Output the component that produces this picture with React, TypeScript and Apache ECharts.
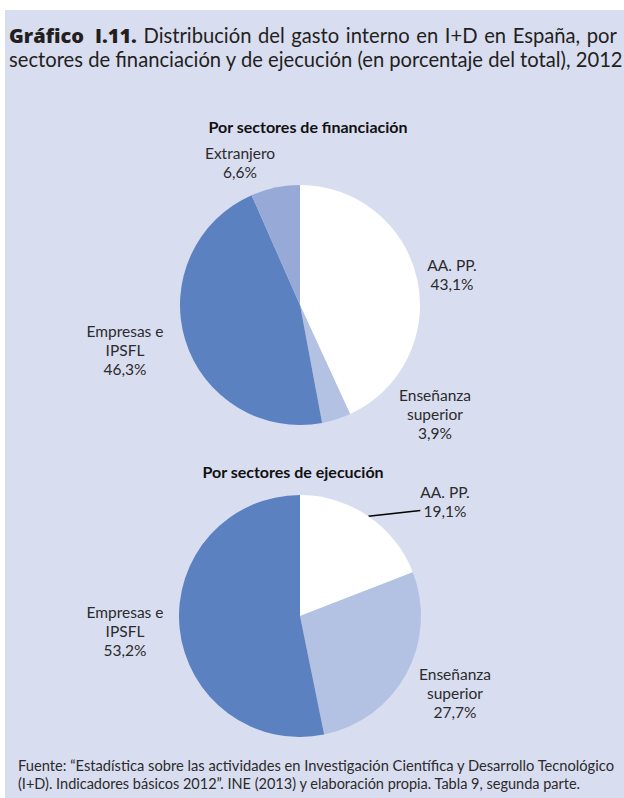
import React, { useEffect, useRef } from "react";
import * as echarts from "echarts";

const pie1Names = ["AA. PP.", "Enseñanza superior", "Empresas e IPSFL", "Extranjero"];
const pie1Labels = ["AA. PP.", "Enseñanza\nsuperior", "Empresas e\nIPSFL", "Extranjero"];
const pie1Values = [43.1, 3.9, 46.3, 6.6];

const pie2Names = ["AA. PP.", "Enseñanza superior", "Empresas e IPSFL"];
const pie2Labels = ["AA. PP.", "Enseñanza\nsuperior", "Empresas e\nIPSFL"];
const pie2Values = [19.1, 27.7, 53.2];

const titleBold = "Gráfico I.11.";
const titleLine1 = "Distribución del gasto interno en I+D en España, por";
const titleLine2 = "sectores de financiación y de ejecución (en porcentaje del total), 2012";

const sectorColors: Record<string, string> = {
  "AA. PP.": "#ffffff",
  "Enseñanza superior": "#b3c1e2",
  "Empresas e IPSFL": "#5c81c1",
  "Extranjero": "#97a9d7",
};

const FONT = "Lato";
const TEXT = "#2b2b2b";

// label anchor positions (layout, not data)
const pie1LabelPos = [[452, 274], [435, 414], [125, 350], [240, 162]];
const pie2LabelPos = [[445, 510.5], [455, 693], [125, 631]];

const fmt = (v: number) => v.toFixed(1).replace(".", ",") + "%";

export default function App() {
  const ref = useRef<HTMLDivElement>(null);
  useEffect(() => {
    if (!ref.current) return;
    const chart = echarts.init(ref.current, null, { renderer: "svg" });
    const mkData = (names: string[], labels: string[], values: number[], lineIdx: number) =>
      names.map((n, i) => ({
        name: n,
        value: values[i],
        itemStyle: { color: sectorColors[n] },
        // the labelled slice gets an empty third line so its guide line meets the label lower down
        label: { formatter: `${labels[i]}\n${fmt(values[i])}` + (i === lineIdx ? "\n " : "") },
        labelLine: { show: i === lineIdx },
      }));
    const labelCommon = {
      show: true,
      position: "outside" as const,
      color: TEXT,
      fontFamily: FONT,
      fontSize: 15.5,
      lineHeight: 19,
      align: "center" as const,
    };
    // justified first line of the title via fixed-width space segments
    const boldPart = titleBold.split(" ").map((w) => `{b|${w}}`).join("{bs| }");
    const line1 = boldPart + "{s| }" + titleLine1.split(" ").join("{s| }");
    chart.setOption({
      animation: false,
      graphic: [
        {
          type: "rect",
          z: -100,
          shape: { x: 5, y: 10, width: 619, height: 788 },
          style: { fill: "#d9ddf0" },
          silent: true,
        },
        {
          type: "text",
          x: 308,
          y: 126,
          style: {
            text: "Por sectores de financiación",
            fill: "#111",
            fontFamily: FONT,
            fontWeight: "bold",
            fontSize: 16,
            align: "center",
            verticalAlign: "middle",
          },
        },
        {
          type: "text",
          x: 293,
          y: 471,
          style: {
            text: "Por sectores de ejecución",
            fill: "#111",
            fontFamily: FONT,
            fontWeight: "bold",
            fontSize: 16,
            align: "center",
            verticalAlign: "middle",
          },
        },
        {
          type: "text",
          x: 18,
          y: 765,
          style: {
            text:
              "Fuente: “Estadística sobre las actividades en Investigación Científica y Desarrollo Tecnológico",
            fill: TEXT,
            fontFamily: FONT,
            fontSize: 14.7,
            align: "left",
            verticalAlign: "middle",
          },
        },
        {
          type: "text",
          x: 18,
          y: 783,
          style: {
            text:
              "(I+D). Indicadores básicos 2012”. INE (2013) y elaboración propia. Tabla 9, segunda parte.",
            fill: TEXT,
            fontFamily: FONT,
            fontSize: 14.5,
            align: "left",
            verticalAlign: "middle",
          },
        },
      ],
      title: {
        left: 9,
        top: 23,
        padding: 0,
        text: line1 + "\n" + titleLine2,
        textStyle: {
          fontFamily: FONT,
          fontSize: 20.2,
          fontWeight: "normal",
          lineHeight: 24,
          color: "#231f20",
          rich: {
            b: { fontFamily: "Open Sans", fontSize: 20, fontWeight: 800, color: "#231f20", lineHeight: 24 },
            bs: { fontFamily: FONT, fontSize: 20.2, color: "#231f20", lineHeight: 24, width: 11 },
            s: { fontFamily: FONT, fontSize: 20.2, color: "#231f20", lineHeight: 24, width: 6.6 },
          },
        },
      },
      series: [
        {
          type: "pie",
          silent: true,
          center: [300, 305],
          radius: 120,
          startAngle: 90,
          clockwise: true,
          data: mkData(pie1Names, pie1Labels, pie1Values, -1),
          label: labelCommon,
          labelLine: { show: false },
          labelLayout: (p: any) => ({
            x: pie1LabelPos[p.dataIndex][0],
            y: pie1LabelPos[p.dataIndex][1],
            align: "center",
            verticalAlign: "middle",
          }),
        },
        {
          type: "pie",
          silent: true,
          center: [300, 616],
          radius: 121,
          startAngle: 90,
          clockwise: true,
          data: mkData(pie2Names, pie2Labels, pie2Values, 0),
          label: labelCommon,
          labelLine: { show: false, lineStyle: { color: "#000", width: 1.5 }, length: 0, length2: 0 },
          labelLayout: (p: any) => ({
            x: pie2LabelPos[p.dataIndex][0],
            y: pie2LabelPos[p.dataIndex][1],
            align: "center",
            verticalAlign: "middle",
          }),
        },
      ],
    });
    return () => chart.dispose();
  }, []);
  return (
    <div
      ref={ref}
      style={{ position: "absolute", left: 0, top: 0, width: 624, height: 798, background: "#fff" }}
    />
  );
}
